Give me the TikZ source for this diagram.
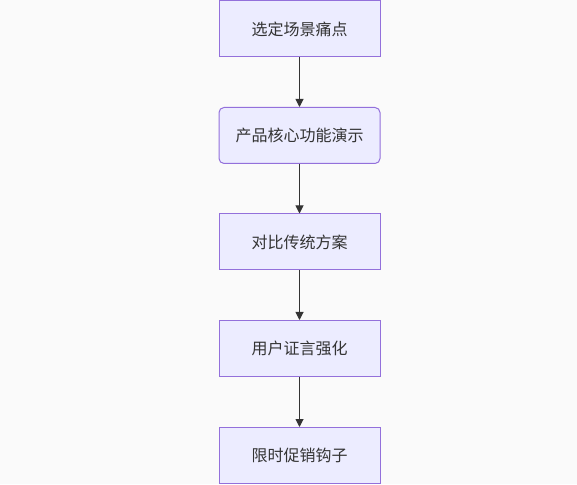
\documentclass[tikz,border=0pt]{standalone}
\usepackage{fontspec}
\usetikzlibrary{arrows.meta}
\newfontfamily\cjk{Noto Sans CJK SC}
\definecolor{boxfill}{HTML}{ECECFF}
\definecolor{boxline}{HTML}{9370DB}
\definecolor{inkgray}{HTML}{333333}
\definecolor{bggray}{HTML}{FAFAFA}
\tikzset{
  stepbox/.style={draw=boxline, fill=boxfill, line width=1pt, minimum width=161pt,
    minimum height=56pt, inner sep=0pt, text=inkgray, font=\cjk\fontsize{16pt}{19pt}\selectfont},
  roundbox/.style={stepbox, rounded corners=5pt},
  flow/.style={-{Triangle[length=8pt,width=8pt]}, draw=inkgray, line width=1pt}
}
\begin{document}
\begin{tikzpicture}
            \fill[bggray] (0,0) rectangle (577pt,484pt);
            \useasboundingbox (0,0) rectangle (577pt,484pt);
            \node[stepbox] at (299.5pt,455pt) (pain) {选定场景痛点};
            \node[roundbox] at (299.5pt,348.5pt) (demo) {产品核心功能演示};
            \node[stepbox] at (299.5pt,242pt) (compare) {对比传统方案};
            \node[stepbox] at (299.5pt,135.5pt) (proof) {用户证言强化};
            \node[stepbox] at (299.5pt,28.5pt) (hook) {限时促销钩子};
            \draw[flow] (pain) to (demo);
            \draw[flow] (demo) to (compare);
            \draw[flow] (compare) to (proof);
            \draw[flow] (proof) to (hook);
        \end{tikzpicture}
\end{document}
